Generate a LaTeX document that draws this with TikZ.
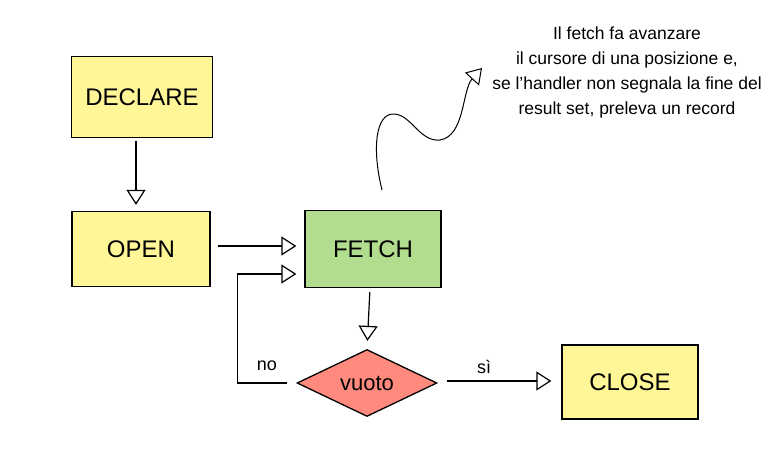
\documentclass[tikz,border=0pt]{standalone}
\usepackage{fontspec}
\setmainfont{Liberation Sans}
\usetikzlibrary{arrows.meta,shapes.geometric}

\definecolor{giallo}{HTML}{FFF797}
\definecolor{verde}{HTML}{B3DD8E}
\definecolor{rosso}{HTML}{FF8A7D}

\tikzset{
    blocco/.style={draw=black, line width=1.3pt, minimum width=#1, font=\fontsize{24}{28}\selectfont},
    freccia/.style={draw=black, line width=1.2pt, -{Triangle[open,length=15pt,width=19pt]}},
    etichetta/.style={font=\fontsize{18}{20}\selectfont}
}

\begin{document}
\begin{tikzpicture}[x=1pt,y=-1pt]
        \useasboundingbox (0,0) rectangle (772,463);

        % Blocchi
        \node[blocco=141pt, minimum height=81pt, fill=giallo] (declare) at (142,97) {DECLARE};
        \node[blocco=138pt, minimum height=75pt, fill=giallo] (open) at (141,249) {OPEN};
        \node[blocco=136pt, minimum height=77pt, fill=verde] (fetch) at (373,249) {FETCH};
        \node[blocco=136pt, minimum height=74pt, fill=giallo] (close) at (630,382) {CLOSE};
        \node[draw=black, line width=1.3pt, fill=rosso, diamond, aspect=2.1, inner sep=0pt,
              minimum width=140pt, minimum height=67pt, font=\fontsize{22}{26}\selectfont] (vuoto) at (367,383) {vuoto};

        % Frecce
        \draw[freccia, shorten <=3pt, shorten >=6pt] ([xshift=-6pt]declare.south) -- ([xshift=-5pt]open.north);
        \draw[freccia, shorten <=7pt, shorten >=8pt] ([yshift=3pt]open.east) -- ([yshift=3pt]fetch.east -| fetch.west);
        \draw[freccia, shorten <=4pt, shorten >=8pt] ([xshift=-3pt]fetch.south) -- (vuoto.north);
        \draw[freccia, shorten >=8pt] ([xshift=-9pt]vuoto.west) -- ++(-50,0) |- ([yshift=-25pt]fetch.west);
        \draw[freccia, shorten <=9pt, shorten >=10pt] ([yshift=2pt]vuoto.east) -- ([yshift=2pt]vuoto.east -| close.west);

        % Etichette
        \node[etichetta] (no) at (267,366) {no};
        \node[etichetta] (si) at (484,367) {sì};

        % Nota con freccia ondulata
        \node[align=center, font=\fontsize{17.5}{25}\selectfont] (nota) at (627,72)
            {Il fetch fa avanzare\\il cursore di una posizione e,\\se l'handler non segnala la fine del\\result set, preleva un record};
        \coordinate (ondainizio) at (382,190);
        \coordinate (ondafine) at (482,68);
        \draw[freccia, line width=1pt] (ondainizio) .. controls (372,150) and (375,112) .. (395,114)
            .. controls (412,116) and (420,142) .. (440,140)
            .. controls (465,136) and (462,90) .. (ondafine);
    \end{tikzpicture}
\end{document}
